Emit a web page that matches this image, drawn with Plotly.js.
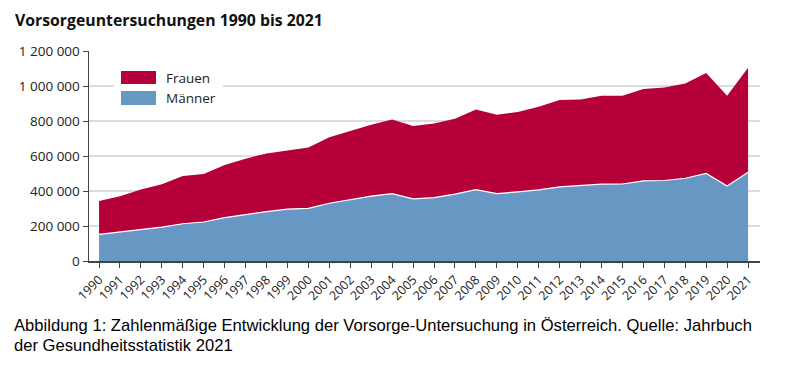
<!DOCTYPE html>
<html><head><meta charset="utf-8">
<script src="https://cdn.plot.ly/plotly-3.0.1.min.js"></script>
<style>html,body{margin:0;padding:0;background:#fff;}#chart{width:791px;height:374px;}</style>
</head><body><div id="chart"></div>
<script>
const years = [1990,1991,1992,1993,1994,1995,1996,1997,1998,1999,2000,2001,2002,2003,2004,2005,2006,2007,2008,2009,2010,2011,2012,2013,2014,2015,2016,2017,2018,2019,2020,2021];
const maenner = [152000,166000,181000,194000,213000,223000,248000,267000,282000,297000,301000,330000,349000,371000,385000,355000,362000,382000,408000,385000,395000,406000,424000,433000,439000,440000,458000,460000,473000,500000,429000,507000];
const gesamt = [343000,370000,408000,438000,486000,497000,549000,585000,615000,632000,648000,707000,743000,779000,809000,771000,786000,813000,866000,836000,851000,881000,920000,923000,944000,945000,983000,992000,1015000,1074000,944000,1105000];
const frauen = gesamt.map((g,i)=>g-maenner[i]);
const yTicks = [0,200000,400000,600000,800000,1000000,1200000];
const seriesNames = ['Frauen','Männer'];
const seriesColors = ['#B5003A','#6797C3'];
const captionLines = ['Abbildung 1: Zahlenmäßige Entwicklung der Vorsorge-Untersuchung in Österreich. Quelle: Jahrbuch',
                      'der Gesundheitsstatistik 2021'];

// plot area in pixels: left 89, right 760, top 51, bottom 261
const PL=89, PW=671, PT=51, PH=210;
const px = v => (v-PL)/PW;
const py = v => (PT+PH-v)/PH;

const data = [
  {x: years, y: maenner, name: seriesNames[1], type:'scatter', mode:'lines', stackgroup:'a',
   fillcolor:seriesColors[1], line:{color:'#ffffff', width:1.2}, hoverinfo:'skip', showlegend:false},
  {x: years, y: frauen, name: seriesNames[0], type:'scatter', mode:'lines', stackgroup:'a',
   fillcolor:seriesColors[0], line:{color:seriesColors[0], width:0}, hoverinfo:'skip', showlegend:false}
];

const shapes = [
  {type:'rect', xref:'paper', yref:'paper', x0:px(114), x1:px(223), y0:py(110), y1:py(64),
   fillcolor:'#fff', line:{width:0}, layer:'above'},
  {type:'rect', xref:'paper', yref:'paper', x0:px(121), x1:px(156), y0:py(84), y1:py(71),
   fillcolor:seriesColors[0], line:{width:0}, layer:'above'},
  {type:'rect', xref:'paper', yref:'paper', x0:px(121), x1:px(156), y0:py(105), y1:py(91),
   fillcolor:seriesColors[1], line:{width:0}, layer:'above'}
];

const capFont = {family:'Liberation Sans, Arial, sans-serif', size:16.6, color:'#000'};
const layout = {
  width:791, height:374,
  margin:{l:PL, r:791-PL-PW, t:PT, b:374-PT-PH},
  paper_bgcolor:'#fff', plot_bgcolor:'#fff',
  font:{family:'Open Sans, sans-serif', color:'#222', size:12},
  title:{text:'<b>Vorsorgeuntersuchungen 1990 bis 2021</b>', x:0.019, xanchor:'left', y:1-20/374, yanchor:'middle',
         font:{family:'Open Sans, sans-serif', size:15.8, color:'#111'}},
  xaxis:{range:[1989.52,2021.57], tickmode:'array', tickvals:years, ticktext:years.map(String),
         tickangle:-45, ticks:'outside', ticklen:5, tickcolor:'#444', showline:true, linecolor:'#444', linewidth:1.5,
         showgrid:false, zeroline:false, tickfont:{size:12.5, family:'Open Sans, sans-serif', color:'#222'}},
  yaxis:{range:[0,1200000], tickmode:'array', tickvals:yTicks, ticktext:yTicks.map(v=>v.toLocaleString('en-US').replace(/,/g,' ')),
         ticks:'outside', ticklen:5, tickcolor:'#444', showline:true, linecolor:'#444', linewidth:1.5,
         gridcolor:'#dcdcdc', gridwidth:1.5, zeroline:false, tickfont:{size:13.5, family:'Open Sans, sans-serif', color:'#222'}},
  showlegend:false,
  shapes: shapes,
  annotations:[
    {xref:'paper', yref:'paper', x:px(164), y:py(77.5), xanchor:'left', yanchor:'middle', showarrow:false,
     text:seriesNames[0], font:{size:13.5, family:'Open Sans, sans-serif', color:'#222'}},
    {xref:'paper', yref:'paper', x:px(164), y:py(98), xanchor:'left', yanchor:'middle', showarrow:false,
     text:seriesNames[1], font:{size:13.5, family:'Open Sans, sans-serif', color:'#222'}},
    {xref:'paper', yref:'paper', x:px(12), y:py(314), xanchor:'left', yanchor:'top', align:'left', showarrow:false,
     text:captionLines[0], font:capFont},
    {xref:'paper', yref:'paper', x:px(12), y:py(333.5), xanchor:'left', yanchor:'top', align:'left', showarrow:false,
     text:captionLines[1], font:capFont}
  ]
};
Plotly.newPlot('chart', data, layout, {staticPlot:true, displayModeBar:false});
</script></body></html>
